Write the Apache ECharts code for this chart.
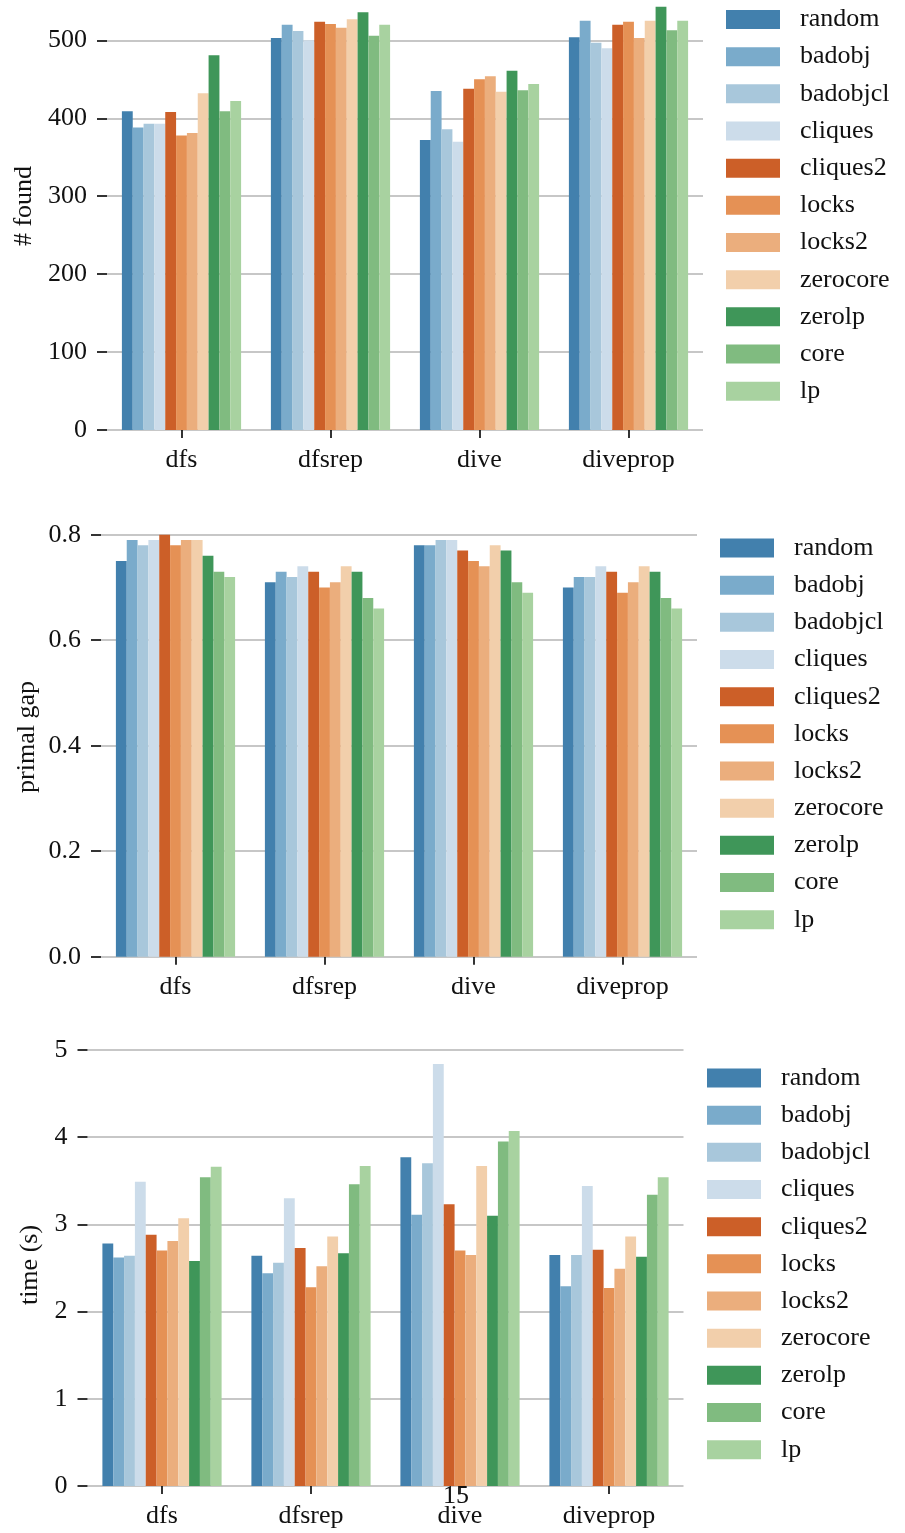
<!DOCTYPE html>
<html>
<head>
<meta charset="utf-8">
<script src="https://cdn.jsdelivr.net/npm/echarts@6/dist/echarts.min.js"></script>
<style>
html,body{margin:0;padding:0;background:#fff;overflow:hidden;}
#wrap{position:relative;width:905px;height:1533px;overflow:hidden;}
#chart{position:absolute;left:0;top:-40px;width:905px;height:1573px;}
</style>
</head>
<body>
<div id="wrap"><div id="chart"></div></div>
<script>
// ---- data ----
const categories = ['dfs', 'dfsrep', 'dive', 'diveprop'];
const methods = ['random', 'badobj', 'badobjcl', 'cliques', 'cliques2', 'locks', 'locks2', 'zerocore', 'zerolp', 'core', 'lp'];

// # found, one array per category (values in method order)
const foundDfs      = [409, 388, 393, 393, 408, 378, 381, 432, 481, 409, 422];
const foundDfsrep   = [503, 520, 512, 500, 524, 521, 516, 527, 536, 506, 520];
const foundDive     = [372, 435, 386, 370, 438, 450, 454, 434, 461, 436, 444];
const foundDiveprop = [504, 525, 497, 490, 520, 524, 503, 525, 543, 513, 525];

// primal gap
const gapDfs      = [0.75, 0.79, 0.78, 0.79, 0.80, 0.78, 0.79, 0.79, 0.76, 0.73, 0.72];
const gapDfsrep   = [0.71, 0.73, 0.72, 0.74, 0.73, 0.70, 0.71, 0.74, 0.73, 0.68, 0.66];
const gapDive     = [0.78, 0.78, 0.79, 0.79, 0.77, 0.75, 0.74, 0.78, 0.77, 0.71, 0.69];
const gapDiveprop = [0.70, 0.72, 0.72, 0.74, 0.73, 0.69, 0.71, 0.74, 0.73, 0.68, 0.66];

// time (s)
const timeDfs      = [2.78, 2.62, 2.64, 3.49, 2.88, 2.70, 2.81, 3.07, 2.58, 3.54, 3.66];
const timeDfsrep   = [2.64, 2.44, 2.56, 3.30, 2.73, 2.28, 2.52, 2.86, 2.67, 3.46, 3.67];
const timeDive     = [3.77, 3.11, 3.70, 4.84, 3.23, 2.70, 2.65, 3.67, 3.10, 3.95, 4.07];
const timeDiveprop = [2.65, 2.29, 2.65, 3.44, 2.71, 2.27, 2.49, 2.86, 2.63, 3.34, 3.54];

// ---- styling ----
const palette = ['#4280ad', '#7aabcb', '#a8c7db', '#ccdcea', '#cc5f28', '#e59155', '#ebae7d', '#f2cfab', '#3f9659', '#80bb80', '#a8d2a0'];
const FONT = '"Liberation Serif", "Times New Roman", serif';
const GRID_COLOR = '#b5b5b5';
const OFF = 40; // chart canvas starts 40px above the page top

const panels = [
  { rows: [foundDfs, foundDfsrep, foundDive, foundDiveprop], grid: {left: 107, right: 202, top: -37.6 + OFF, bottom: 1103},
    y: {min: 0, max: 600, interval: 100, fmt: v => String(v)}, legend: {left: 726, top: 10 - 3.5 + OFF} },
  { rows: [gapDfs, gapDfsrep, gapDive, gapDiveprop], grid: {left: 101, right: 208, top: 534.7 + OFF, bottom: 576.3},
    y: {min: 0, max: 0.8, interval: 0.2, fmt: v => v.toFixed(1)}, legend: {left: 720, top: 538.5 - 3.5 + OFF} },
  { rows: [timeDfs, timeDfsrep, timeDive, timeDiveprop], grid: {left: 87.5, right: 221.5, top: 1050 + OFF, bottom: 47},
    y: {min: 0, max: 5, interval: 1, fmt: v => String(v)}, legend: {left: 707, top: 1068.5 - 3.5 + OFF} }
];

const grids = [], xAxes = [], yAxes = [], series = [], legends = [];
panels.forEach((p, pi) => {
  grids.push(Object.assign({containLabel: false, outerBoundsMode: 'none'}, p.grid));
  xAxes.push({
    type: 'category', gridIndex: pi, data: categories,
    axisLine: {show: false},
    axisTick: {show: true, alignWithLabel: true, length: 8, lineStyle: {color: '#000', width: 1.6}},
    axisLabel: {fontFamily: FONT, fontSize: 26, color: '#111', margin: 17}
  });
  yAxes.push({
    type: 'value', gridIndex: pi, min: p.y.min, max: p.y.max, interval: p.y.interval,
    axisLine: {show: false},
    axisTick: {show: true, length: 10, inside: false, lineStyle: {color: '#000', width: 1.6}},
    axisLabel: {fontFamily: FONT, fontSize: 26, color: '#111', margin: 20, formatter: p.y.fmt},
    splitLine: {show: true, lineStyle: {color: GRID_COLOR, width: 1.5}}
  });
  methods.forEach((m, mi) => {
    series.push({
      type: 'bar', name: m, xAxisIndex: pi, yAxisIndex: pi,
      data: p.rows.map(r => r[mi]),
      itemStyle: {color: palette[mi]},
      barGap: '0%', barCategoryGap: '20%',
      silent: true, animation: false
    });
  });
  legends.push({
    orient: 'vertical', left: p.legend.left, top: p.legend.top, padding: 0,
    data: methods.map(m => ({name: m, icon: 'rect'})),
    itemWidth: 54, itemHeight: 19, itemGap: 11.17,
    selectedMode: false,
    textStyle: {fontFamily: FONT, fontSize: 26, color: '#111', padding: [0, 0, 0, 15]}
  });
});

const titleStyle = {fontFamily: FONT, fontSize: 26, fill: '#111', textAlign: 'center', textVerticalAlign: 'middle'};
const graphics = [
  {type: 'text', x: 24, y: 206 + OFF, rotation: Math.PI / 2, style: Object.assign({text: '# found'}, titleStyle)},
  {type: 'text', x: 27, y: 737 + OFF, rotation: Math.PI / 2, style: Object.assign({text: 'primal gap'}, titleStyle)},
  {type: 'text', x: 30, y: 1265 + OFF, rotation: Math.PI / 2, style: Object.assign({text: 'time (s)'}, titleStyle)},
  {type: 'text', x: 456, y: 1496 + OFF, z: 100, style: Object.assign({text: '15'}, titleStyle)}
];

const chart = echarts.init(document.getElementById('chart'), null, {renderer: 'canvas'});
chart.setOption({
  backgroundColor: '#fff',
  animation: false,
  color: palette,
  grid: grids, xAxis: xAxes, yAxis: yAxes, series: series, legend: legends,
  graphic: graphics
});
</script>
</body>
</html>
